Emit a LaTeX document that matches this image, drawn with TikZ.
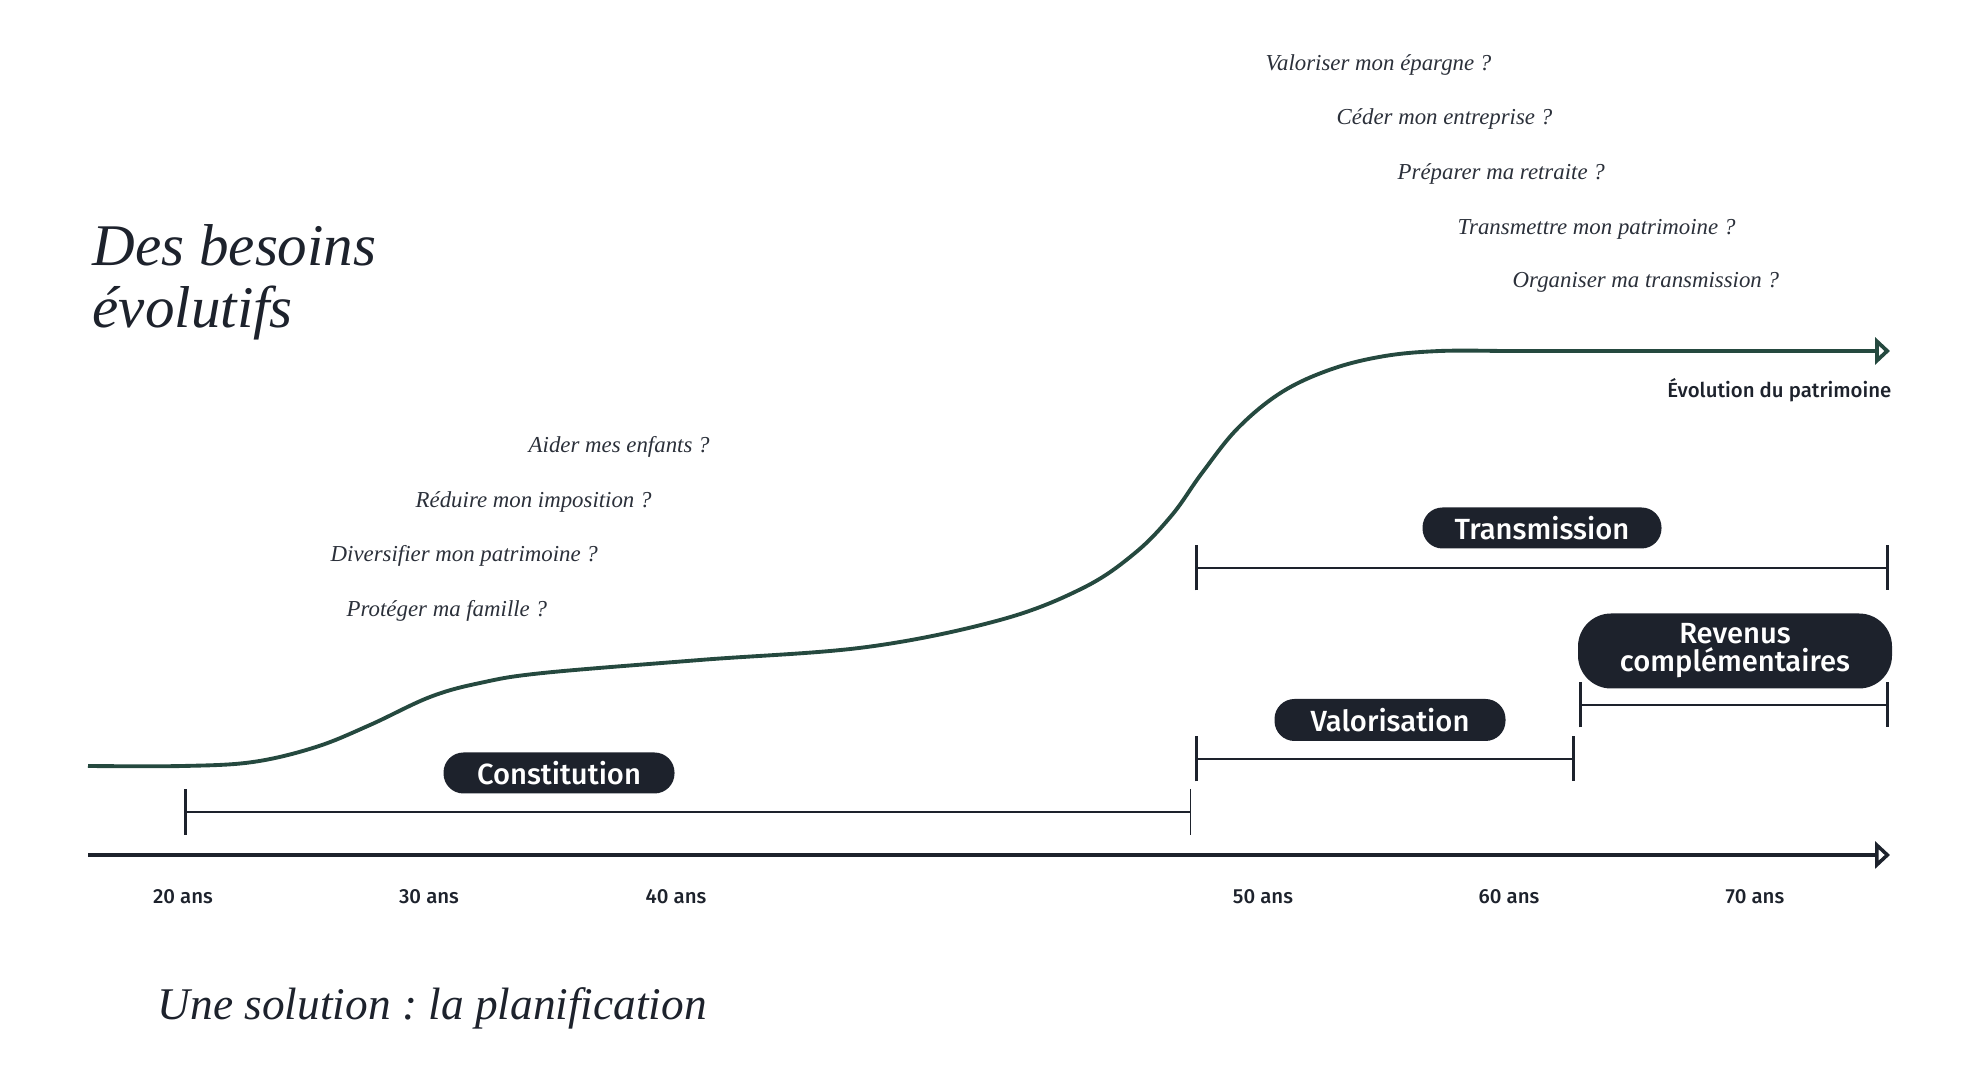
\documentclass[tikz,border=0pt]{standalone}
\usepackage{fontspec}
\newfontfamily\agefont{Fira Sans Medium}
\newfontfamily\phasefont{Fira Sans Medium}
\newfontfamily\needfont{Liberation Serif}
\usetikzlibrary{arrows.meta}
\frenchspacing

\definecolor{navy}{HTML}{1D222C}
\definecolor{pine}{HTML}{25493F}
\definecolor{ink}{HTML}{2B303A}

\begin{document}
\begin{tikzpicture}[
    phase/.style={fill=navy, text=white, font=\phasefont\fontsize{8.3}{8}\selectfont, rounded corners=0.2cm, inner sep=0pt, minimum height=0.41cm},
    span/.style={navy, line width=0.8pt, {Bar[width=0.45cm]}-{Bar[width=0.45cm]}},
    age/.style={font=\agefont\fontsize{5.8}{7}\selectfont, text=navy},
    need/.style={font=\needfont\itshape\fontsize{6.5}{8}\selectfont, text=ink, anchor=west, inner sep=0pt},
    axis/.style={navy, line width=1pt, -{Triangle[open, length=0.15cm, width=0.27cm]}},
    curve/.style={pine, line width=1.1pt, -{Triangle[open, length=0.15cm, width=0.27cm]}}
]

    \useasboundingbox (0,0) rectangle (19.8,10.8);

    % --- Titles ---
    \node[anchor=north west, inner sep=0pt, align=left, text=navy, font=\needfont\itshape\fontsize{16.8}{17.6}\selectfont] (title) at (0.92,8.56) {Des besoins\\évolutifs};
    \node[anchor=west, inner sep=0pt, text=navy, font=\needfont\itshape\fontsize{12.9}{15}\selectfont] (answer) at (1.57,0.72) {Une solution : la planification};

    % --- Age axis ---
    \coordinate (axisStart) at (0.88,2.25);
    \coordinate (axisEnd) at (18.90,2.25);
    \draw[axis] (axisStart) -- (axisEnd);

    \node[age] (a20) at (1.83,1.83) {20 ans};
    \node[age] (a30) at (4.29,1.83) {30 ans};
    \node[age] (a40) at (6.76,1.83) {40 ans};
    \node[age] (a50) at (12.63,1.83) {50 ans};
    \node[age] (a60) at (15.09,1.83) {60 ans};
    \node[age] (a70) at (17.55,1.83) {70 ans};

    % --- Wealth curve ---
    \coordinate (wealthEnd) at (18.90,7.29);
    \draw[curve] plot[smooth, tension=0.6] coordinates {
        (0.88,3.14) (1.83,3.14) (2.53,3.18) (3.16,3.33) (3.70,3.55) (4.30,3.83)
        (4.80,3.97) (5.43,4.07) (7.00,4.20) (8.67,4.33) (10.00,4.60) (10.83,4.92)
        (11.35,5.27) (11.72,5.65) (12.02,6.07) (12.38,6.52) (12.82,6.88) (13.32,7.11)
        (13.85,7.24) (14.40,7.29) (15.00,7.29)} -- (wealthEnd);
    \node[anchor=east, inner sep=0pt, font=\agefont\fontsize{5.8}{7}\selectfont, text=navy] (wealth) at (18.92,6.90) {Évolution du patrimoine};

    % --- Phases ---
    \coordinate (cStart) at (1.84,2.68);
    \coordinate (cEnd) at (11.91,2.68);
    \draw[navy, line width=0.8pt, {Bar[width=0.46cm]}-{Bar[width=0.46cm, line width=0.35pt]}] (cStart) -- (cEnd);
    \node[phase, minimum width=2.31cm] (constitution) at (5.59,3.07) {Constitution};

    \coordinate (vStart) at (11.95,3.21);
    \coordinate (vEnd) at (15.75,3.21);
    \draw[span] (vStart) -- (vEnd);
    \node[phase, minimum width=2.31cm, minimum height=0.42cm] (valorisation) at (13.90,3.60) {Valorisation};

    \coordinate (rStart) at (15.79,3.75);
    \coordinate (rEnd) at (18.89,3.75);
    \draw[span] (rStart) -- (rEnd);
    \node[phase, align=center, minimum width=3.14cm, minimum height=0.75cm, rounded corners=0.33cm] (revenus) at (17.35,4.29) {Revenus\\complémentaires};

    \coordinate (tStart) at (11.95,5.12);
    \coordinate (tEnd) at (18.89,5.12);
    \draw[span] (tStart) -- (tEnd);
    \node[phase, minimum width=2.39cm] (transmission) at (15.42,5.52) {Transmission};

    % --- Needs, early years ---
    \node[need] (q1) at (5.28,6.33) {Aider mes enfants ?};
    \node[need] (q2) at (4.15,5.78) {Réduire mon imposition ?};
    \node[need] (q3) at (3.30,5.24) {Diversifier mon patrimoine ?};
    \node[need] (q4) at (3.46,4.69) {Protéger ma famille ?};

    % --- Needs, later years ---
    \node[need] (q5) at (12.65,10.15) {Valoriser mon épargne ?};
    \node[need] (q6) at (13.36,9.61) {Céder mon entreprise ?};
    \node[need] (q7) at (13.97,9.06) {Préparer ma retraite ?};
    \node[need] (q8) at (14.57,8.51) {Transmettre mon patrimoine ?};
    \node[need] (q9) at (15.12,7.98) {Organiser ma transmission ?};

\end{tikzpicture}
\end{document}
